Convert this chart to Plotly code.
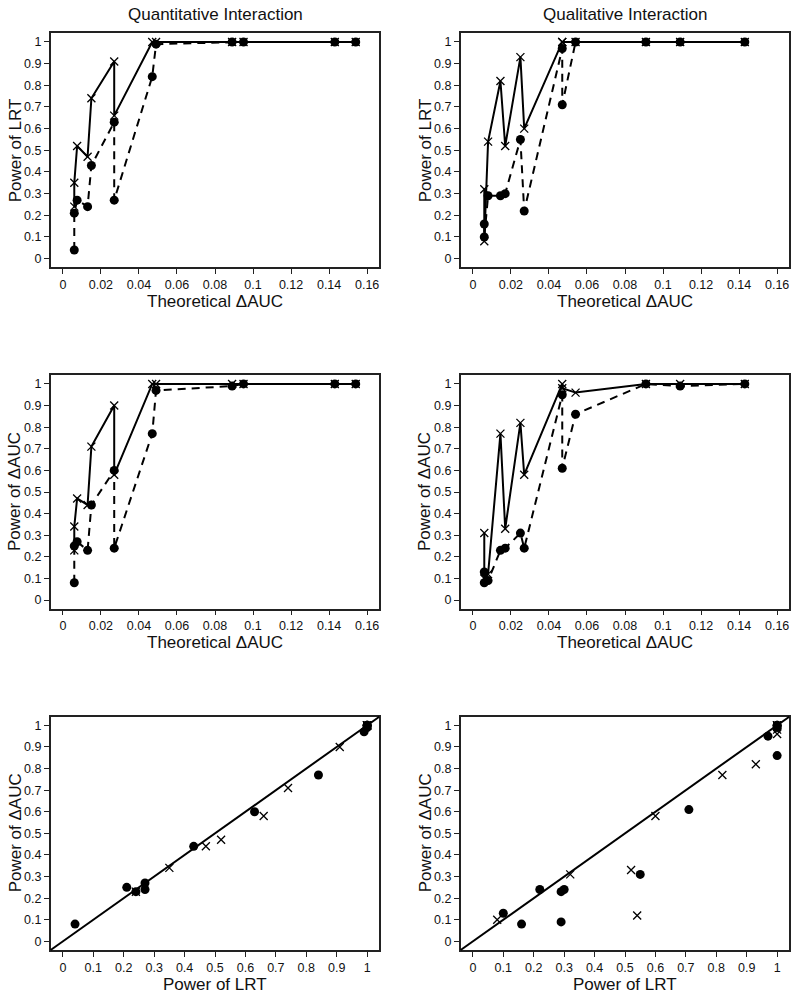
import plotly.graph_objects as go

# ---------------- data ----------------
# Quantitative interaction scenarios
quant_dauc = [0.006, 0.006, 0.0075, 0.013, 0.015, 0.027, 0.027, 0.047, 0.049, 0.089, 0.095, 0.143, 0.154]
quant_lrt_dot = [0.04, 0.21, 0.27, 0.24, 0.43, 0.63, 0.27, 0.84, 0.99, 1.0, 1.0, 1.0, 1.0]
quant_lrt_x = [0.24, 0.35, 0.52, 0.47, 0.74, 0.91, 0.66, 1.0, 1.0, 1.0, 1.0, 1.0, 1.0]
quant_auc_dot = [0.08, 0.25, 0.27, 0.23, 0.44, 0.60, 0.24, 0.77, 0.97, 0.99, 1.0, 1.0, 1.0]
quant_auc_x = [0.23, 0.34, 0.47, 0.44, 0.71, 0.90, 0.58, 1.0, 1.0, 1.0, 1.0, 1.0, 1.0]

# Qualitative interaction scenarios
qual_dauc = [0.006, 0.006, 0.008, 0.0145, 0.017, 0.025, 0.027, 0.047, 0.047, 0.054, 0.091, 0.109, 0.143]
qual_lrt_dot = [0.16, 0.10, 0.29, 0.29, 0.30, 0.55, 0.22, 0.97, 0.71, 1.0, 1.0, 1.0, 1.0]
qual_lrt_x = [0.32, 0.08, 0.54, 0.82, 0.52, 0.93, 0.60, 1.0, 1.0, 1.0, 1.0, 1.0, 1.0]
qual_auc_dot = [0.08, 0.13, 0.09, 0.23, 0.24, 0.31, 0.24, 0.95, 0.61, 0.86, 1.0, 0.99, 1.0]
qual_auc_x = [0.31, 0.10, 0.12, 0.77, 0.33, 0.82, 0.58, 1.0, 0.98, 0.96, 1.0, 1.0, 1.0]

col_titles = ["Quantitative Interaction", "Qualitative Interaction"]
dauc_ticks = [0, 0.02, 0.04, 0.06, 0.08, 0.1, 0.12, 0.14, 0.16]
power_ticks = [0, 0.1, 0.2, 0.3, 0.4, 0.5, 0.6, 0.7, 0.8, 0.9, 1]
dauc_limits = [0, 0.16]
power_limits = [0, 1]

# ---------------- layout helpers ----------------
W, H = 799, 996
FONT = "Liberation Sans, Arial, Helvetica, sans-serif"
col_px = [(50.7, 379.3), (460.7, 789.3)]
row_px = [(33.3, 267.3), (375.3, 608.7), (716.7, 950.0)]


def ext(lim):
    d = (lim[1] - lim[0]) * 0.04
    return [lim[0] - d, lim[1] + d]


def xdom(c):
    return [col_px[c][0] / W, col_px[c][1] / W]


def ydom(r):
    return [1 - row_px[r][1] / H, 1 - row_px[r][0] / H]


fig = go.Figure()

dot_marker = dict(symbol="circle", size=9, color="black")
x_marker = dict(symbol="x-thin", size=8, color="black", line=dict(width=1.3, color="black"))

line_panels = [
    (quant_dauc, quant_lrt_dot, quant_lrt_x),
    (qual_dauc, qual_lrt_dot, qual_lrt_x),
    (quant_dauc, quant_auc_dot, quant_auc_x),
    (qual_dauc, qual_auc_dot, qual_auc_x),
]

idx = 0
for (xv, dots, xs) in line_panels:
    idx += 1
    xa = "x" if idx == 1 else f"x{idx}"
    ya = "y" if idx == 1 else f"y{idx}"
    fig.add_trace(go.Scatter(x=xv, y=dots, mode="lines+markers", xaxis=xa, yaxis=ya,
                             line=dict(color="black", width=2, dash="8px,6px"),
                             marker=dot_marker, showlegend=False))
    fig.add_trace(go.Scatter(x=xv, y=xs, mode="lines+markers", xaxis=xa, yaxis=ya,
                             line=dict(color="black", width=2),
                             marker=x_marker, showlegend=False))

shapes = []
scatter_sets = [
    (quant_lrt_dot, quant_auc_dot, quant_lrt_x, quant_auc_x),
    (qual_lrt_dot, qual_auc_dot, qual_lrt_x, qual_auc_x),
]
for (lx, ay, lxx, ayx) in scatter_sets:
    idx += 1
    xa = f"x{idx}"
    ya = f"y{idx}"
    fig.add_trace(go.Scatter(x=lx, y=ay, mode="markers", xaxis=xa, yaxis=ya,
                             marker=dot_marker, showlegend=False))
    fig.add_trace(go.Scatter(x=lxx, y=ayx, mode="markers", xaxis=xa, yaxis=ya,
                             marker=x_marker, showlegend=False))
    # identity line y = x across the whole plotting region
    shapes.append(dict(type="line", xref=f"{xa} domain", yref=f"{ya} domain",
                       x0=0, y0=0, x1=1, y1=1, line=dict(color="black", width=2)))

axis_common = dict(showgrid=False, zeroline=False, showline=True, mirror=True,
                   linecolor="#222", linewidth=1.5, ticks="outside", ticklen=5,
                   tickcolor="#222", tickwidth=1,
                   tickfont=dict(family=FONT, size=12.5, color="#111"))

annotations = []
layout_axes = {}
all_panels = [(0, 0, "dauc", "Power of LRT", "Theoretical ΔAUC"),
              (0, 1, "dauc", "Power of LRT", "Theoretical ΔAUC"),
              (1, 0, "dauc", "Power of ΔAUC", "Theoretical ΔAUC"),
              (1, 1, "dauc", "Power of ΔAUC", "Theoretical ΔAUC"),
              (2, 0, "power", "Power of ΔAUC", "Power of LRT"),
              (2, 1, "power", "Power of ΔAUC", "Power of LRT")]
for i, (r, c, kind, ylab, xlab) in enumerate(all_panels, start=1):
    xk = "xaxis" if i == 1 else f"xaxis{i}"
    yk = "yaxis" if i == 1 else f"yaxis{i}"
    ya_name = "y" if i == 1 else f"y{i}"
    xa_name = "x" if i == 1 else f"x{i}"
    if kind == "dauc":
        xr, xt = ext(dauc_limits), dauc_ticks
    else:
        xr, xt = ext(power_limits), power_ticks
    layout_axes[xk] = dict(axis_common, domain=xdom(c), range=xr, tickvals=xt,
                           anchor=ya_name)
    layout_axes[yk] = dict(axis_common, domain=ydom(r), range=ext(power_limits),
                           tickvals=power_ticks, anchor=xa_name)
    cx = (col_px[c][0] + col_px[c][1]) / 2
    cy = (row_px[r][0] + row_px[r][1]) / 2
    ylab_x = 15 if c == 0 else 425
    annotations.append(dict(text=ylab, x=ylab_x / W, y=1 - cy / H, xref="paper", yref="paper",
                            showarrow=False, textangle=-90, xanchor="center", yanchor="middle",
                            font=dict(family=FONT, size=17, color="#111")))
    annotations.append(dict(text=xlab, x=cx / W, y=1 - (row_px[r][1] + 34) / H,
                            xref="paper", yref="paper", showarrow=False,
                            xanchor="center", yanchor="middle",
                            font=dict(family=FONT, size=17, color="#111")))

for c, t in enumerate(col_titles):
    cx = (col_px[c][0] + col_px[c][1]) / 2
    annotations.append(dict(text=t, x=cx / W, y=1 - 15 / H, xref="paper", yref="paper",
                            showarrow=False, xanchor="center", yanchor="middle",
                            font=dict(family=FONT, size=17, color="#111")))

fig.update_layout(width=W, height=H, margin=dict(l=0, r=0, t=0, b=0, pad=0),
                  paper_bgcolor="white", plot_bgcolor="white",
                  font=dict(family=FONT, color="#111"),
                  annotations=annotations, shapes=shapes, showlegend=False,
                  **layout_axes)

fig.write_html("out.html", config={"displayModeBar": False},
               post_script="document.body.style.margin='0';")
